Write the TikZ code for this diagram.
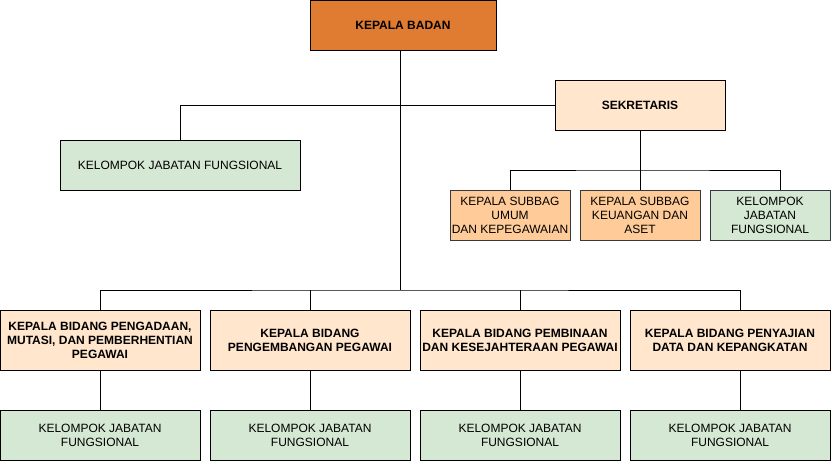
\documentclass[tikz,border=0pt]{standalone}
\usepackage{fontspec}
\setmainfont{Liberation Sans}
\usepackage{tikz}
\definecolor{kabanfill}{RGB}{224,123,50}
\definecolor{peach}{RGB}{255,230,204}
\definecolor{apricot}{RGB}{255,204,153}
\definecolor{sage}{RGB}{213,232,212}
\definecolor{subline}{RGB}{54,57,61}
\tikzset{
	box/.style={draw, line width=0.75pt, align=center, inner sep=0pt, outer sep=0pt,
		minimum height=37.5pt, font=\fontsize{9}{10.5}\selectfont},
	head/.style={box, font=\fontsize{9}{10.5}\selectfont\bfseries},
	link/.style={line width=0.75pt}
}

\begin{document}
\begin{tikzpicture}[x=0.75pt, y=-0.75pt]
\useasboundingbox (0,0) rectangle (831,461);
\node[head, fill=kabanfill, minimum width=139.5pt] (kaban) at (403,25) {KEPALA BADAN};
\node[head, fill=peach, minimum width=127.5pt] (sek) at (640,105) {SEKRETARIS};
\node[box, fill=sage, minimum width=180pt] (kjf) at (180,165) {KELOMPOK JABATAN FUNGSIONAL};
\node[box, fill=apricot, draw=subline, minimum width=90pt] (sub1) at (510,215) {KEPALA SUBBAG\\UMUM\\DAN KEPEGAWAIAN};
\node[box, fill=apricot, draw=subline, minimum width=90pt] (sub2) at (640,215) {KEPALA SUBBAG\\KEUANGAN DAN\\ASET};
\node[box, fill=sage, draw=subline, minimum width=90pt] (sub3) at (770,215) {KELOMPOK\\JABATAN\\FUNGSIONAL};
% bidang
\node[head, fill=peach, minimum width=150pt, minimum height=45pt] (bid1) at (100,340) {KEPALA BIDANG PENGADAAN,\\MUTASI, DAN PEMBERHENTIAN\\PEGAWAI};
\node[head, fill=peach, minimum width=150pt, minimum height=45pt] (bid2) at (310,340) {KEPALA BIDANG\\PENGEMBANGAN PEGAWAI};
\node[head, fill=peach, minimum width=150pt, minimum height=45pt] (bid3) at (520,340) {KEPALA BIDANG PEMBINAAN\\DAN KESEJAHTERAAN PEGAWAI};
\node[head, fill=peach, minimum width=150pt, minimum height=45pt] (bid4) at (730,340) {KEPALA BIDANG PENYAJIAN\\DATA DAN KEPANGKATAN};
\foreach \i/\x in {1/100,2/310,3/520,4/730}
	\node[box, fill=sage, minimum width=150pt] (fung\i) at (\x,435) {KELOMPOK JABATAN\\FUNGSIONAL};
% connectors
\coordinate (bus) at (400,290);
\coordinate (subbus) at (640,170);
\draw[link] (kaban.south -| bus) -- (bus);
\draw[link] (sek.west) -| (kjf.north);
\draw[link] (sek.south) -- (subbus);
\draw[link] (sub1.north) |- (subbus) -| ([xshift=7.5pt]sub3.north);
\draw[link] (subbus) -- (sub2.north);
\draw[link] (bid1.north) |- (bus) -| ([xshift=7.5pt]bid4.north);
\draw[link] (bid2.north) -- (bid2.north |- bus);
\draw[link] (bid3.north) -- (bid3.north |- bus);
\foreach \i in {1,2,3}
	\draw[link] (bid\i.south) -- (fung\i.north);
\draw[link] ([xshift=7.5pt]bid4.south) -- ([xshift=7.5pt]fung4.north);
\end{tikzpicture}
\end{document}
